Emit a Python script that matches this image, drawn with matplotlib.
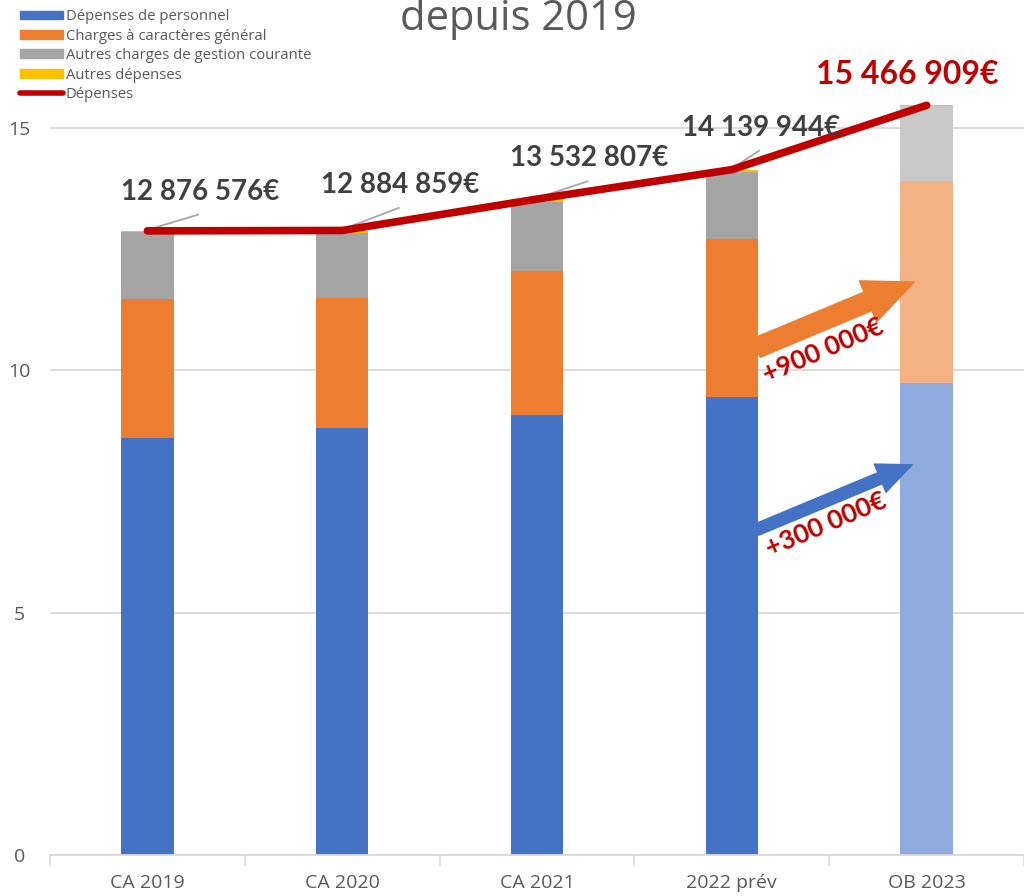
import numpy as np
import matplotlib.pyplot as plt
from matplotlib.lines import Line2D
from matplotlib.patches import Patch

# Données (millions d'euros)
categories = ["CA 2019", "CA 2020", "CA 2021", "2022 prév", "OB 2023"]
personnel = [8.60, 8.81, 9.08, 9.45, 9.74]
charges_generales = [2.87, 2.68, 2.97, 3.26, 4.17]
autres_gestion = [1.38, 1.34, 1.42, 1.38, 1.54]
autres_depenses = [0.03, 0.05, 0.06, 0.05, 0.02]
depenses = [12876576, 12884859, 13532807, 14139944, 15466909]

plt.rcParams['font.family'] = ['Open Sans', 'DejaVu Sans']

blue, blue_l = '#4472C4', '#8FAADC'
orange, orange_l = '#ED7D31', '#F4B183'
gray, gray_l = '#A5A5A5', '#C9C9C9'
yellow = '#FFC000'
red = '#C00000'
txt = '#595959'

fig = plt.figure(figsize=(10.24, 8.96), dpi=100)
ax = fig.add_axes([50 / 1024, 41 / 896, 974 / 1024, 815 / 896])

x = np.arange(len(categories))
w = 0.27
n = len(categories)
c_blue = [blue] * (n - 1) + [blue_l]
c_orange = [orange] * (n - 1) + [orange_l]
c_gray = [gray] * (n - 1) + [gray_l]

b0 = np.zeros(n)
ax.bar(x, personnel, w, bottom=b0, color=c_blue, zorder=2)
b0 = b0 + personnel
ax.bar(x, charges_generales, w, bottom=b0, color=c_orange, zorder=2)
b0 = b0 + charges_generales
ax.bar(x, autres_gestion, w, bottom=b0, color=c_gray, zorder=2)
b0 = b0 + autres_gestion
ax.bar(x, autres_depenses, w, bottom=b0, color=yellow, zorder=2)

tot = np.array(depenses) / 1e6
ax.plot(x, tot, color=red, lw=5.5, solid_capstyle='round', solid_joinstyle='round', zorder=4)

# étiquettes de données
lab_pos = [(0.27, 13.68), (1.30, 13.82), (2.27, 14.37), (3.15, 15.0)]
for i, (lx, ly) in enumerate(lab_pos):
    s = f"{depenses[i]:,}".replace(",", " ") + "€"
    ax.text(lx, ly, s, ha='center', va='center', fontsize=20, fontweight='bold',
            color='#404040', family=['Lato', 'DejaVu Sans'], zorder=5)
    ax.plot([x[i], lx - 0.01], [tot[i] + 0.02, ly - 0.47], color='#A6A6A6', lw=1.3, zorder=3)
s = f"{depenses[-1]:,}".replace(",", " ") + "€"
ax.text(3.9, 16.1, s, ha='center', va='center', fontsize=23, fontweight='bold',
        color=red, family=['Lato', 'DejaVu Sans'], zorder=5)

# flèches
ax.annotate('', xy=(3.936, 11.82), xytext=(3.126, 10.46),
            arrowprops=dict(arrowstyle='simple,head_length=3.6,head_width=3.2,tail_width=1.45',
                            mutation_scale=10, color=orange, shrinkA=0, shrinkB=0), zorder=6)
ax.annotate('', xy=(3.926, 8.05), xytext=(3.126, 6.71),
            arrowprops=dict(arrowstyle='simple,head_length=2.5,head_width=2.2,tail_width=0.86',
                            mutation_scale=10, color=blue, shrinkA=0, shrinkB=0), zorder=6)
ax.text(3.47, 10.4, "+900 000€", rotation=23, ha='center', va='center', fontsize=19,
        fontweight='bold', color=red, family=['Lato', 'DejaVu Sans'], zorder=7)
ax.text(3.485, 6.81, "+300 000€", rotation=23, ha='center', va='center', fontsize=19,
        fontweight='bold', color=red, family=['Lato', 'DejaVu Sans'], zorder=7)

ax.set_xlim(-0.5, 4.5)
ax.set_ylim(0, 815 / 48.47)
ax.set_yticks([0, 5, 10, 15])
ax.set_xticks(x)
ax.set_xticklabels(categories)
ax.set_xticks(np.arange(-0.5, 5, 1), minor=True)
ax.tick_params(axis='x', which='major', length=0, pad=14, labelsize=14, labelcolor=txt)
ax.tick_params(axis='x', which='minor', length=8, color='#D9D9D9', width=1.2)
ax.tick_params(axis='y', length=0, pad=22, labelsize=14, labelcolor=txt)
for lbl in ax.get_yticklabels():
    lbl.set_horizontalalignment('center')
ax.grid(axis='y', color='#D9D9D9', lw=1.3, zorder=0)
for sp in ['top', 'right', 'left']:
    ax.spines[sp].set_visible(False)
ax.spines['bottom'].set_color('#D9D9D9')
ax.spines['bottom'].set_linewidth(1.3)
ax.set_axisbelow(True)

fig.text(0.506, 0.966, "depuis 2019", ha='center', va='baseline', fontsize=30, color=txt)

handles = [Patch(color=blue), Patch(color=orange), Patch(color=gray), Patch(color=yellow),
           Line2D([], [], color=red, lw=4, solid_capstyle='round')]
labels = ["Dépenses de personnel", "Charges à caractères général",
          "Autres charges de gestion courante", "Autres dépenses", "Dépenses"]
fig.legend(handles, labels, loc='upper left', bbox_to_anchor=(0.017, 0.993), frameon=False,
           fontsize=10.7, labelcolor=txt, handlelength=2.9, handleheight=0.55,
           handletextpad=0.15, labelspacing=0.3, borderaxespad=0, borderpad=0.2)

fig.savefig('out.png', dpi=100)
